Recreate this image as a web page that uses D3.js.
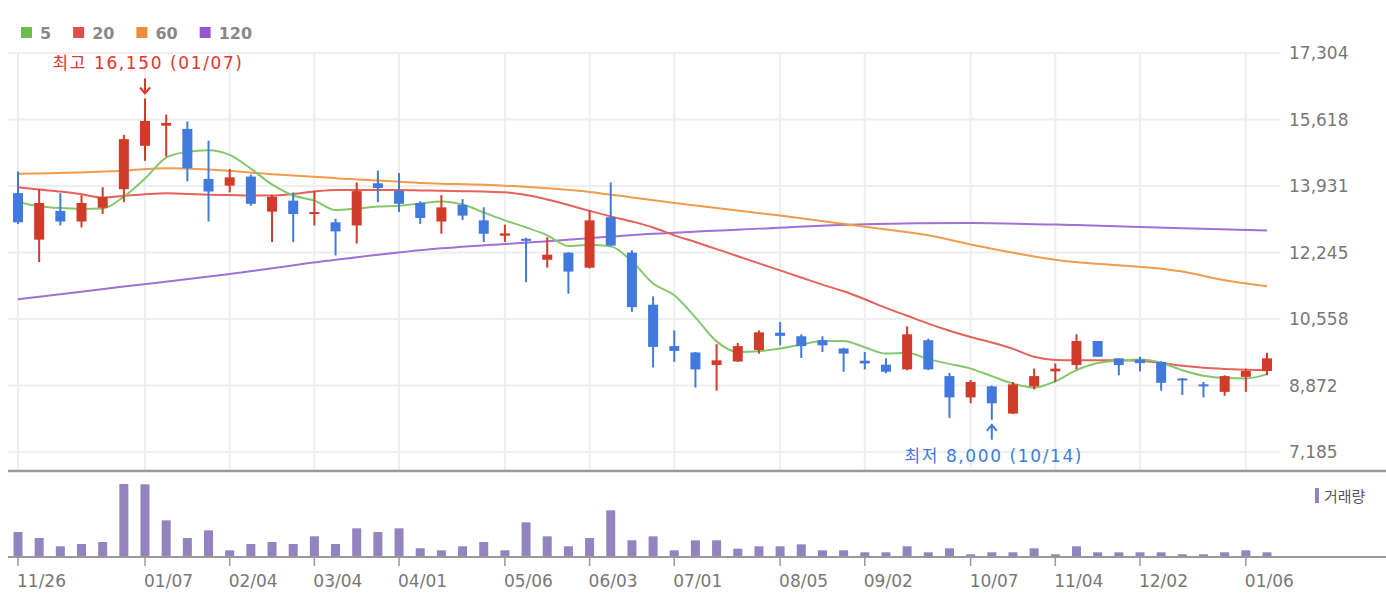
<!DOCTYPE html>
<html>
<head>
<meta charset="utf-8">
<script src="https://cdn.jsdelivr.net/npm/d3@7/dist/d3.min.js"></script>
<style>
    html, body { margin: 0; padding: 0; background: #fff; }
    svg { display: block; font-family: "DejaVu Sans", "Noto Sans CJK KR", sans-serif; }
</style>
</head>
<body>
<svg id="chart" width="1386" height="612"></svg>
<script>
// weekly candles, 2018-11-26 .. 2020-01-13
var weeks = ['11/26','12/03','12/10','12/17','12/24','12/31','01/07','01/14','01/21','01/28',
             '02/04','02/11','02/18','02/25','03/04','03/11','03/18','03/25','04/01','04/08',
             '04/15','04/22','04/29','05/06','05/13','05/20','05/27','06/03','06/10','06/17',
             '06/24','07/01','07/08','07/15','07/22','07/29','08/05','08/12','08/19','08/26',
             '09/02','09/09','09/16','09/23','09/30','10/07','10/14','10/21','10/28','11/04',
             '11/11','11/18','11/25','12/02','12/09','12/16','12/23','12/30','01/06','01/13'];

var open  = [13750,12570,13300,13030,13380,13850,14950,15460,15380,14110,
             13940,14170,13280,13560,13230,13010,12930,14000,13810,13500,
             13030,13450,13060,12670,12590,12060,12240,11860,13140,12240,
             10920, 9870, 9710, 9390, 9480, 9770,10210,10120,10020, 9810,
              9500, 9400, 9280,10020, 9110, 8570, 8850, 8160, 8850, 9230,
              9390,10000, 9560, 9530, 9470, 9050, 8900, 8710, 9090, 9240];
var high  = [14300,13850,13750,13700,13900,15230,16150,15740,15570,15080,
             14360,14220,13710,13770,13810,13100,14020,14320,14260,13540,
             13700,13600,13390,12950,12620,12630,12250,13310,14020,12300,
             11130,10270, 9720, 9920, 9950,10270,10480,10170,10120, 9830,
              9720, 9560,10370,10060, 9190, 9010, 8870, 8960, 9300, 9430,
             10170,10000, 9560, 9600, 9480, 9060, 8960, 9130, 9300, 9700];
var low   = [12970,12000,12930,12880,13220,13520,14570,14680,14050,13030,
             13770,13430,12510,12510,12930,12170,12470,13520,13270,12970,
             12720,13070,12510,12510,11490,11860,11200,11840,12400,10740,
              9330, 9470, 8820, 8740, 9470, 9680, 9890, 9570, 9720, 9220,
              9280, 9180, 9260, 9260, 8050, 8420, 8000, 8150, 8770, 8960,
              9280, 9600, 9130, 9230, 8740, 8630, 8570, 8610, 8710, 9130];
var close = [13010,13500,13030,13500,13650,15120,15580,15530,14380,13790,
             14150,13480,13660,13220,13270,12780,13800,13880,13480,13120,
             13390,13180,12720,12730,12540,12190,11760,13060,12420,10860,
              9850, 9750, 9280, 9510, 9870,10220,10130, 9870, 9890, 9680,
              9430, 9220,10170, 9280, 8570, 8960, 8420, 8900, 9110, 9300,
             10000, 9600, 9390, 9440, 8940, 9010, 8860, 9110, 9240, 9560];

var volume = [250000,190000,107000,130000,150000,731000,728000,367000,190000,267000,
               67000,130000,150000,130000,207000,130000,287000,250000,287000, 87000,
               67000,107000,150000, 67000,347000,207000,107000,190000,467000,167000,
              207000, 67000,167000,167000, 83000,107000,107000,127000, 67000, 67000,
               47000, 47000,107000, 47000, 87000, 27000, 47000, 47000, 87000, 27000,
              107000, 47000, 47000, 47000, 47000, 27000, 27000, 47000, 67000, 47000];

// moving averages
var ma5  = [13520,13420,13370,13350,13360,13660,14120,14650,14800,14840,
            14720,14370,13970,13690,13560,13320,13360,13410,13430,13490,
            13540,13460,13260,13060,12880,12680,12410,12440,12400,12020,
            11460,11160,10600, 9990, 9720, 9740, 9810, 9910,10000,10000,
             9840, 9680, 9700, 9540, 9420, 9300, 9110, 8920, 8820, 8980,
             9260, 9440, 9500, 9530, 9450, 9260, 9120, 9060, 9050, 9160];
var ma20 = [13900,13840,13790,13720,13640,13680,13720,13745,13730,13710,
            13700,13690,13690,13730,13790,13830,13830,13830,13830,13820,
            13810,13800,13790,13770,13700,13590,13450,13300,13160,13030,
            12880,12680,12510,12330,12150,11970,11790,11610,11430,11260,
            11060,10840,10640,10440,10260,10100, 9960, 9800, 9600, 9520,
             9510, 9510, 9510, 9500, 9440, 9370, 9320, 9290, 9270, 9260];
var ma60Weeks  = ['11/26','12/31','01/14','01/28','02/18','03/11','04/08','05/06','06/03','06/17',
                  '07/01','08/05','09/02','09/23','10/07','11/04','12/16','12/30','01/13'];
var ma60       = [14240,14320,14380,14350,14230,14130,14010,13940,13780,13640,
                  13500,13180,12900,12680,12450,12060,11760,11540,11390];
var ma120Weeks = ['11/26','12/31','02/04','03/11','04/15','05/20','06/24','07/29','09/02','10/07',
                  '11/11','12/16','01/13'];
var ma120      = [11060,11380,11700,12060,12350,12530,12720,12850,12960,12990,
                  12940,12860,12800];

var priceTicks = [7185, 8872, 10558, 12245, 13931, 15618, 17304];
var dateTicks  = ['11/26','01/07','02/04','03/04','04/01','05/06','06/03','07/01',
                  '08/05','09/02','10/07','11/04','12/02','01/06'];

var legendNames  = ['5', '20', '60', '120'];
var legendColors = ['#6cbd4c', '#de4f4a', '#eb8d3a', '#9459cc'];
var lineColors   = ['#84c86b', '#e6615a', '#f19b4c', '#a070d8'];

var highMark = { week: '01/07', value: 16150 };
var lowMark  = { week: '10/14', value: 8000 };

var UP = '#d13b2a', DOWN = '#4279dd', VOL = '#9383bf';
var GRID = '#eeeeee', AXIS_TXT = '#777';

var svg = d3.select('#chart');

var x  = d3.scalePoint().domain(weeks).range([18, 1267]);
var y  = d3.scaleLinear().domain([7185, 17304]).range([452, 53]);
var yv = d3.scaleLinear().domain([0, d3.max(volume)]).range([557, 484]);

// ---- grid
var grid = svg.append('g');
grid.selectAll('line.h').data(priceTicks).enter().append('line')
    .attr('x1', 8).attr('x2', 1280)
    .attr('y1', function(d) { return y(d); }).attr('y2', function(d) { return y(d); })
    .attr('stroke', GRID).attr('stroke-width', 2);
grid.selectAll('line.v').data(dateTicks).enter().append('line')
    .attr('x1', function(d) { return x(d); }).attr('x2', function(d) { return x(d); })
    .attr('y1', 53).attr('y2', 470)
    .attr('stroke', GRID).attr('stroke-width', 2);

// price labels (right)
svg.append('g').selectAll('text').data(priceTicks).enter().append('text')
    .attr('x', 1289).attr('y', function(d) { return y(d); })
    .attr('dy', '0.36em')
    .attr('fill', AXIS_TXT).style('font-size', '17px')
    .text(function(d) { return d3.format(',')(d); });

// ---- moving averages
var line = d3.line().curve(d3.curveMonotoneX)
    .x(function(d) { return x(d[0]); })
    .y(function(d) { return y(d[1]); });

var maSeries = [
    d3.zip(ma120Weeks, ma120),
    d3.zip(ma60Weeks, ma60),
    d3.zip(weeks, ma20),
    d3.zip(weeks, ma5)
];
var maColors = [lineColors[3], lineColors[2], lineColors[1], lineColors[0]];
svg.append('g').selectAll('path').data(maSeries).enter().append('path')
    .attr('d', line)
    .attr('fill', 'none')
    .attr('stroke', function(d, i) { return maColors[i]; })
    .attr('stroke-width', 2);

// ---- candles
var candles = svg.append('g').selectAll('g').data(weeks).enter().append('g');
candles.append('line')
    .attr('x1', function(d) { return x(d); }).attr('x2', function(d) { return x(d); })
    .attr('y1', function(d, i) { return y(high[i]); })
    .attr('y2', function(d, i) { return y(low[i]); })
    .attr('stroke', function(d, i) { return close[i] >= open[i] ? UP : DOWN; })
    .attr('stroke-width', 2);
candles.append('rect')
    .attr('x', function(d) { return x(d) - 5; })
    .attr('width', 10)
    .attr('y', function(d, i) { return y(Math.max(open[i], close[i])); })
    .attr('height', function(d, i) { return Math.max(2, Math.abs(y(open[i]) - y(close[i]))); })
    .attr('fill', function(d, i) { return close[i] >= open[i] ? UP : DOWN; });

// ---- high / low marks
var fmt = d3.format(',');
var hx = x(highMark.week), hy = y(highMark.value);
svg.append('path')
    .attr('d', 'M' + hx + ',' + (hy - 20) + 'V' + (hy - 5) + 'M' + (hx - 5) + ',' + (hy - 11) + 'L' + hx + ',' + (hy - 5) + 'L' + (hx + 5) + ',' + (hy - 11))
    .attr('fill', 'none').attr('stroke', '#e3342e').attr('stroke-width', 2);
svg.append('text')
    .attr('x', hx + 3).attr('y', 69)
    .attr('text-anchor', 'middle')
    .attr('fill', '#e3342e').style('font-size', '17px').style('letter-spacing', '1.6px')
    .text('최고 ' + fmt(highMark.value) + ' (' + highMark.week + ')');

var lx = x(lowMark.week), ly = y(lowMark.value);
svg.append('path')
    .attr('d', 'M' + lx + ',' + (ly + 20) + 'V' + (ly + 5) + 'M' + (lx - 5) + ',' + (ly + 11) + 'L' + lx + ',' + (ly + 5) + 'L' + (lx + 5) + ',' + (ly + 11))
    .attr('fill', 'none').attr('stroke', '#3b7ddd').attr('stroke-width', 2);
svg.append('text')
    .attr('x', lx + 2).attr('y', 462)
    .attr('text-anchor', 'middle')
    .attr('fill', '#3b7ddd').style('font-size', '17px').style('letter-spacing', '1.6px')
    .text('최저 ' + fmt(lowMark.value) + ' (' + lowMark.week + ')');

// ---- panel separator
svg.append('line').attr('x1', 8).attr('x2', 1386).attr('y1', 471).attr('y2', 471)
    .attr('stroke', '#9a9a9a').attr('stroke-width', 2.5);

// ---- volume
svg.append('g').selectAll('rect').data(weeks).enter().append('rect')
    .attr('x', function(d) { return x(d) - 4.5; })
    .attr('width', 9)
    .attr('y', function(d, i) { return yv(volume[i]); })
    .attr('height', function(d, i) { return 557 - yv(volume[i]); })
    .attr('fill', VOL);

var xAxis = svg.append('g').attr('transform', 'translate(0,557)');
xAxis.append('line').attr('x1', 8).attr('x2', 1386)
    .attr('stroke', '#999').attr('stroke-width', 2);
xAxis.selectAll('line.t').data(dateTicks).enter().append('line')
    .attr('x1', function(d) { return x(d); }).attr('x2', function(d) { return x(d); })
    .attr('y1', 0).attr('y2', 9)
    .attr('stroke', '#999').attr('stroke-width', 1.5);
xAxis.selectAll('text').data(dateTicks).enter().append('text')
    .attr('x', function(d) { return x(d) - 1; }).attr('y', 30)
    .attr('fill', AXIS_TXT).style('font-size', '17px')
    .text(function(d) { return d; });

// volume legend
svg.append('rect').attr('x', 1315).attr('y', 488).attr('width', 4).attr('height', 15).attr('fill', VOL);
svg.append('text').attr('x', 1324).attr('y', 502)
    .attr('fill', '#555').style('font-size', '15px')
    .text('거래량');

// ---- MA legend
var lg = svg.append('g');
var lxPos = 21;
legendNames.forEach(function(name, i) {
    lg.append('rect').attr('x', lxPos).attr('y', 27).attr('width', 11).attr('height', 11)
        .attr('fill', legendColors[i]);
    var t = lg.append('text').attr('x', lxPos + 19).attr('y', 38.5)
        .attr('fill', '#888').style('font-size', '16px').style('font-weight', 'bold')
        .text(name);
    lxPos += 19 + t.node().getComputedTextLength() + 22;
});
</script>
</body>
</html>
